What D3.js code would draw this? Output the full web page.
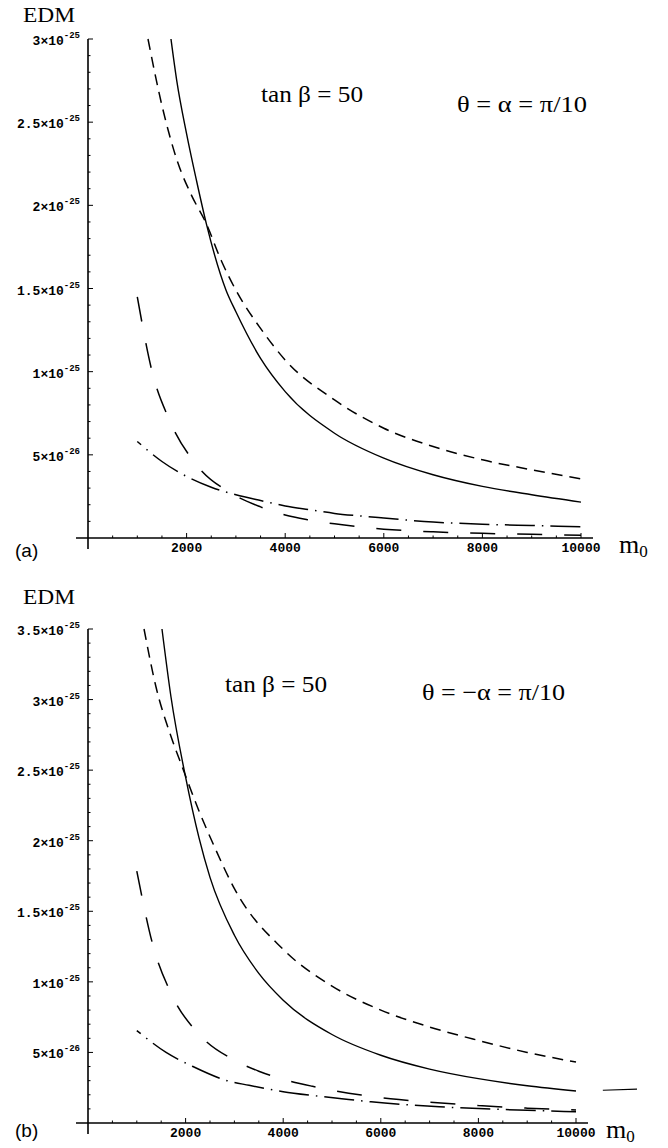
<!DOCTYPE html>
<html>
<head>
<meta charset="utf-8">
<script src="https://cdn.jsdelivr.net/npm/d3@7/dist/d3.min.js"></script>
<style>
  html, body { margin: 0; padding: 0; background: #fff; }
  svg { display: block; }
</style>
</head>
<body>
<svg id="chart" width="668" height="1148"></svg>
<script>
// ---------- DATA (EDM values in units of 1e-25) ----------
const xTickValues = [2000, 4000, 6000, 8000, 10000];
const xTickLabels = ["2000", "4000", "6000", "8000", "10000"];

const yTickValuesA = [0.5, 1, 1.5, 2, 2.5, 3];
const yTickMantA   = ["5", "1", "1.5", "2", "2.5", "3"];
const yTickExpA    = ["-26", "-25", "-25", "-25", "-25", "-25"];

const yTickValuesB = [0.5, 1, 1.5, 2, 2.5, 3, 3.5];
const yTickMantB   = ["5", "1", "1.5", "2", "2.5", "3", "3.5"];
const yTickExpB    = ["-26", "-25", "-25", "-25", "-25", "-25", "-25"];

// Panel (a): tan beta = 50, theta = alpha = pi/10
const solidA_m = [1683, 1800, 2000, 2200, 2400, 2800, 3000, 3500, 4000, 5000, 6000, 7000, 8000, 9000, 10000];
const solidA_v = [3.0, 2.75, 2.43, 2.15, 1.89, 1.49, 1.36, 1.08, 0.88, 0.63, 0.48, 0.38, 0.31, 0.26, 0.216];
const shortA_m = [1217, 1500, 1825, 2100, 2393, 2700, 3000, 3500, 4000, 5000, 6000, 7000, 8000, 9000, 10000];
const shortA_v = [3.0, 2.6, 2.254, 2.06, 1.894, 1.67, 1.49, 1.26, 1.07, 0.83, 0.66, 0.55, 0.47, 0.41, 0.355];
const longA_m  = [1000, 1300, 1650, 2200, 2900, 3500, 4000, 4500, 5000, 6000, 7000, 8000, 9000, 10000];
const longA_v  = [1.45, 1.0, 0.71, 0.44, 0.27, 0.187, 0.138, 0.108, 0.085, 0.053, 0.037, 0.028, 0.022, 0.016];
const dotA_m   = [1000, 1500, 2000, 2500, 3000, 3500, 4000, 4500, 5000, 5500, 6000, 7000, 8000, 9000, 10000];
const dotA_v   = [0.58, 0.46, 0.37, 0.305, 0.26, 0.225, 0.193, 0.17, 0.148, 0.133, 0.12, 0.096, 0.083, 0.075, 0.067];

// Panel (b): tan beta = 50, theta = -alpha = pi/10
const solidB_m = [1516, 1700, 2000, 2275, 2500, 3000, 3500, 4000, 5000, 6000, 7000, 8000, 9000, 10000];
const solidB_v = [3.5, 3.02, 2.45, 2.02, 1.74, 1.33, 1.06, 0.87, 0.627, 0.48, 0.382, 0.314, 0.264, 0.227];
const shortB_m = [1148, 1400, 1700, 1947, 2264, 2600, 3000, 4000, 5000, 6000, 7000, 8000, 9000, 10000];
const shortB_v = [3.5, 3.08, 2.74, 2.508, 2.22, 1.95, 1.66, 1.23, 0.97, 0.80, 0.68, 0.585, 0.50, 0.432];
const longB_m  = [1000, 1330, 1700, 2300, 3000, 3500, 4000, 4600, 5000, 5600, 6200, 7000, 8000, 9000, 10000];
const longB_v  = [1.785, 1.26, 0.92, 0.62, 0.445, 0.367, 0.31, 0.26, 0.232, 0.198, 0.172, 0.148, 0.124, 0.105, 0.092];
const dotB_m   = [1000, 1600, 2150, 2850, 3300, 4000, 4600, 5200, 5800, 6500, 7200, 8000, 9000, 10000];
const dotB_v   = [0.655, 0.50, 0.40, 0.30, 0.267, 0.222, 0.195, 0.172, 0.15, 0.13, 0.115, 0.102, 0.09, 0.08];
const strayB_m = [10550, 11250];
const strayB_v = [0.232, 0.24];

// ---------- DRAWING ----------
const svg = d3.select("#chart");
svg.append("rect").attr("width", 668).attr("height", 1148).attr("fill", "#fff");

const serif = "'Liberation Serif', 'DejaVu Serif', serif";
const mono = "'Liberation Mono', 'DejaVu Sans Mono', monospace";
const sans = "'Liberation Sans', Arial, sans-serif";

const styles = {
  solid: { dash: null, offset: 0, width: 1.4 },
  short: { dash: "11,7", offset: 0, width: 1.5 },
  long:  { dash: "25,22", offset: 0, width: 1.5 },
  dot:   { dash: "30,7,1.5,7", offset: 25, width: 1.5 }
};

function panel(cfg) {
  const g = svg.append("g");
  const x = d3.scaleLinear().domain([0, 10000]).range([cfg.x0, cfg.x1]);
  const y = d3.scaleLinear().domain([0, cfg.yMax]).range([cfg.y0, cfg.y1]);

  const clipId = "clip" + cfg.id;
  svg.append("clipPath").attr("id", clipId)
    .append("rect").attr("x", cfg.x0).attr("y", cfg.y1 - 1)
    .attr("width", 668 - cfg.x0).attr("height", cfg.y0 - cfg.y1 + 2);

  // axes lines
  g.append("line").attr("x1", cfg.x0).attr("x2", cfg.x0)
    .attr("y1", y(cfg.yMax)).attr("y2", cfg.y0 + 11)
    .attr("stroke", "#000").attr("stroke-width", 1.6);
  g.append("line").attr("x1", cfg.x0 - 12).attr("x2", x(10000) + 12)
    .attr("y1", cfg.y0).attr("y2", cfg.y0)
    .attr("stroke", "#000").attr("stroke-width", 1.6);

  // y minor/major ticks
  const yMinor = d3.range(0.1, cfg.yMax + 0.001, 0.1).map(v => +v.toFixed(2));
  g.selectAll(".ymin").data(yMinor).enter().append("line")
    .attr("x1", cfg.x0).attr("x2", d => cfg.x0 + (Math.abs(d * 2 - Math.round(d * 2)) < 1e-6 ? 5 : 2.5))
    .attr("y1", d => y(d)).attr("y2", d => y(d))
    .attr("stroke", "#000").attr("stroke-width", 1);

  // x minor/major ticks
  const xMinor = d3.range(500, 10001, 500);
  g.selectAll(".xmin").data(xMinor).enter().append("line")
    .attr("x1", d => x(d)).attr("x2", d => x(d))
    .attr("y1", cfg.y0).attr("y2", d => cfg.y0 - (d % 2000 === 0 ? 5 : 2.5))
    .attr("stroke", "#000").attr("stroke-width", 1);

  // x tick labels
  g.selectAll(".xl").data(xTickValues).enter().append("text")
    .attr("x", d => x(d)).attr("y", cfg.y0 + 14)
    .attr("text-anchor", "middle")
    .attr("font-family", mono).attr("font-weight", "bold").attr("font-size", 13)
    .text((d, i) => xTickLabels[i]);

  // y tick labels
  const yl = g.selectAll(".yl").data(cfg.yTicks).enter().append("text")
    .attr("x", cfg.x0 - 8).attr("y", d => y(d) + 6)
    .attr("text-anchor", "end")
    .attr("font-family", mono).attr("font-weight", "bold").attr("font-size", 13);
  yl.append("tspan").text((d, i) => cfg.mant[i] + "\u00d710");
  yl.append("tspan").attr("dy", -7).attr("font-size", 9).text((d, i) => cfg.exp[i]);

  // curves
  const line = d3.line().x(d => x(d[0])).y(d => y(d[1])).curve(d3.curveMonotoneX);
  const cg = g.append("g").attr("clip-path", `url(#${clipId})`);
  cfg.series.forEach(s => {
    const st = styles[s.style];
    const pts = s.m.map((m, i) => [m, s.v[i]]);
    cg.append("path").attr("d", line(pts))
      .attr("fill", "none").attr("stroke", "#000")
      .attr("stroke-width", st.width)
      .attr("stroke-dasharray", st.dash)
      .attr("stroke-dashoffset", st.offset);
  });
  (cfg.extra || []).forEach(s => {
    const pts = s.m.map((m, i) => [m, s.v[i]]);
    g.append("path").attr("d", d3.line().x(d => x(d[0])).y(d => y(d[1]))(pts))
      .attr("fill", "none").attr("stroke", "#000").attr("stroke-width", 1.2);
  });

  // labels
  g.append("text").attr("x", 23).attr("y", cfg.edmY)
    .attr("font-family", serif).attr("font-size", 21)
    .attr("textLength", 52).attr("lengthAdjust", "spacingAndGlyphs").text("EDM");
  g.append("text").attr("x", 15).attr("y", cfg.tagY)
    .attr("font-family", sans).attr("font-size", 19).text(cfg.tag);
  const ml = g.append("text").attr("x", cfg.mX).attr("y", cfg.y0 + 15)
    .attr("font-family", serif).attr("font-size", 26);
  ml.append("tspan").text("m");
  ml.append("tspan").attr("dy", 4).attr("font-size", 17).text("0");

  g.append("text").attr("x", cfg.t1x).attr("y", cfg.t1y)
    .attr("font-family", serif).attr("font-size", 23)
    .attr("textLength", 102).attr("lengthAdjust", "spacingAndGlyphs")
    .text("tan \u03b2 = 50");
  g.append("text").attr("x", cfg.t2x).attr("y", cfg.t2y)
    .attr("font-family", serif).attr("font-size", 23)
    .attr("textLength", cfg.t2len).attr("lengthAdjust", "spacingAndGlyphs")
    .text(cfg.t2);
}

panel({
  id: "a", x0: 88, x1: 581, y0: 538, y1: 39, yMax: 3,
  yTicks: yTickValuesA, mant: yTickMantA, exp: yTickExpA,
  series: [
    { m: solidA_m, v: solidA_v, style: "solid" },
    { m: shortA_m, v: shortA_v, style: "short" },
    { m: longA_m, v: longA_v, style: "long" },
    { m: dotA_m, v: dotA_v, style: "dot" }
  ],
  edmY: 22, tag: "(a)", tagY: 557, mX: 619,
  t1x: 261, t1y: 102, t2x: 457, t2y: 112, t2len: 130, t2: "\u03b8 = \u03b1 = \u03c0/10"
});

panel({
  id: "b", x0: 88, x1: 576, y0: 1123, y1: 629, yMax: 3.5,
  yTicks: yTickValuesB, mant: yTickMantB, exp: yTickExpB,
  series: [
    { m: solidB_m, v: solidB_v, style: "solid" },
    { m: shortB_m, v: shortB_v, style: "short" },
    { m: longB_m, v: longB_v, style: "long" },
    { m: dotB_m, v: dotB_v, style: "dot" }
  ],
  extra: [{ m: strayB_m, v: strayB_v }],
  edmY: 604, tag: "(b)", tagY: 1137, mX: 606,
  t1x: 225, t1y: 692, t2x: 422, t2y: 700, t2len: 143, t2: "\u03b8 = \u2212\u03b1 = \u03c0/10"
});
</script>
</body>
</html>
